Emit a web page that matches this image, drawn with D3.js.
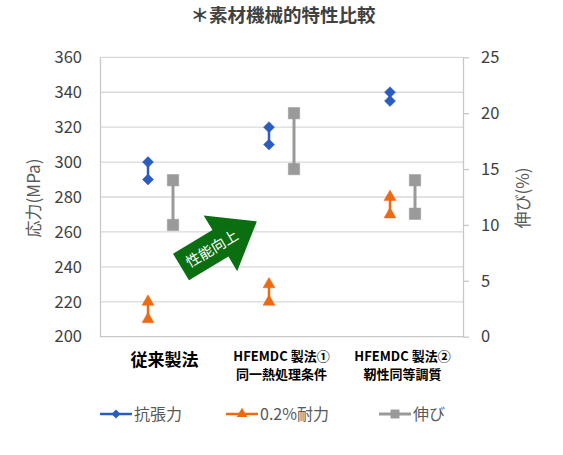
<!DOCTYPE html>
<html><head><meta charset="utf-8">
<script src="https://cdn.jsdelivr.net/npm/d3@7"></script>
<style>body{margin:0;background:#fff}svg{display:block}</style>
</head><body>
<svg id="c" width="563" height="455"></svg>
<script>
const title = "＊素材機械的特性比較";
const categories = ["従来製法", "HFEMDC 製法①|同一熱処理条件", "HFEMDC 製法②|靭性同等調質"];
const tensileHigh = [300, 320, 340];
const tensileLow  = [290, 310, 335];
const proofHigh   = [220, 230, 280];
const proofLow    = [210, 220, 270];
const elongHigh   = [14, 20, 14];
const elongLow    = [10, 15, 11];
const leftTicks  = [200, 220, 240, 260, 280, 300, 320, 340, 360];
const rightTicks = [0, 5, 10, 15, 20, 25];
const seriesNames = ["抗張力", "0.2%耐力", "伸び"];
const arrowLabel = "性能向上";

const svg = d3.select("#c");
const FONT = "'Noto Sans CJK JP', 'Noto Sans', sans-serif";
const L = 100, R = 463, T = 57.3, B = 336.7;
const x = d3.scaleBand().domain(d3.range(categories.length)).range([L, R]);
const sub = d3.scalePoint().domain(["stress", "elong"]).range([-12.5, 12.5]);
const yL = d3.scaleLinear().domain([200, 360]).range([B, T]);
const yR = d3.scaleLinear().domain([0, 25]).range([B, T]);
const blue = "#2b5cbf", orange = "#ee6a12", gray = "#9a9a9a";

// title
svg.append("text").attr("x", 283).attr("y", 22).attr("text-anchor", "middle")
  .attr("font-family", FONT).attr("font-weight", "bold").attr("font-size", 18.5)
  .attr("fill", "#404040").text(title);

// gridlines
svg.append("g").selectAll("line").data(leftTicks.slice(1)).join("line")
  .attr("x1", L).attr("x2", R).attr("y1", d => yL(d)).attr("y2", d => yL(d))
  .attr("stroke", "#d9d9d9").attr("stroke-width", 1.3);

// left axis
const gl = svg.append("g").attr("transform", `translate(${L},0)`)
  .call(d3.axisLeft(yL).tickValues(leftTicks).tickSize(0).tickPadding(18));
gl.select(".domain").attr("stroke", "#c8c8c8").attr("stroke-width", 1.3);
gl.selectAll("text").attr("font-family", FONT).attr("font-size", 16.5).attr("fill", "#404040");

// right axis
const gr = svg.append("g").attr("transform", `translate(${R},0)`)
  .call(d3.axisRight(yR).tickValues(rightTicks).tickSizeInner(6).tickSizeOuter(0).tickPadding(12));
gr.select(".domain").attr("stroke", "#c8c8c8").attr("stroke-width", 1.3);
gr.selectAll(".tick line").attr("stroke", "#c8c8c8").attr("stroke-width", 1.3);
gr.selectAll("text").attr("font-family", FONT).attr("font-size", 16.5).attr("fill", "#404040");

// bottom axis line
svg.append("line").attr("x1", L).attr("x2", R).attr("y1", B).attr("y2", B)
  .attr("stroke", "#c8c8c8").attr("stroke-width", 1.3);

// axis titles
svg.append("text").attr("transform", "translate(40,198) rotate(-90)").attr("text-anchor", "middle")
  .attr("font-family", FONT).attr("font-size", 17).attr("fill", "#595959").text("応力(MPa)");
svg.append("text").attr("transform", "translate(529,198) rotate(-90)").attr("text-anchor", "middle")
  .attr("font-family", FONT).attr("font-size", 17).attr("fill", "#595959").text("伸び(%)");

// category labels
const cx = i => x(i) + x.bandwidth() / 2;
categories.forEach((c, i) => {
  const lines = c.split("|");
  if (lines.length === 1) {
    svg.append("text").attr("text-anchor", "middle").attr("font-family", FONT)
      .attr("font-weight", "bold").attr("fill", "#000")
      .attr("x", cx(i) + 4).attr("y", 366).attr("font-size", 17).text(lines[0]);
  } else {
    lines.forEach((ln, k) => svg.append("text").attr("text-anchor", "middle").attr("font-family", FONT)
      .attr("font-weight", "bold").attr("fill", "#000")
      .attr("x", cx(i)).attr("y", 361 + k * 18).attr("font-size", 13).text(ln));
  }
});

const tri = d3.symbol().type(d3.symbolTriangle).size(62);
const sq = d3.symbol().type(d3.symbolSquare).size(130);
const dia = d3.symbol().type(d3.symbolSquare).size(60);

function drawPair(hi, lo, y, off, color, sym, lw, rot) {
  const g = svg.append("g");
  hi.forEach((h, i) => {
    const px = cx(i) + off;
    g.append("line").attr("x1", px).attr("x2", px).attr("y1", y(h)).attr("y2", y(lo[i]))
      .attr("stroke", color).attr("stroke-width", lw);
    [h, lo[i]].forEach(v => g.append("path").attr("d", sym)
      .attr("transform", `translate(${px},${y(v)}) rotate(${rot})`).attr("fill", color)
      .attr("stroke", color).attr("stroke-width", 0.5).attr("stroke-linejoin", "round"));
  });
}
drawPair(elongHigh, elongLow, yR, sub("elong"), gray, sq, 3, 0);
drawPair(tensileHigh, tensileLow, yL, sub("stress"), blue, dia, 2.5, 45);
drawPair(proofHigh, proofLow, yL, sub("stress"), orange, tri, 2.5, 0);

// arrow
const ag = svg.append("g").attr("transform", "translate(181,267) rotate(-31)");
ag.append("path").attr("d", "M0,-15.5 L46,-15.5 L46,-32.5 L88.5,0 L46,32.5 L46,15.5 L0,15.5 Z")
  .attr("fill", "#0b6e10");
ag.append("text").attr("x", 36).attr("y", 5.5).attr("text-anchor", "middle")
  .attr("font-family", FONT).attr("font-size", 14.5).attr("fill", "#fff").text(arrowLabel);

// legend
const legend = [
  {name: seriesNames[0], color: blue, sym: d3.symbol().type(d3.symbolSquare).size(40), rot: 45, lw: 2.5, x: 100},
  {name: seriesNames[1], color: orange, sym: d3.symbol().type(d3.symbolTriangle).size(50), rot: 0, lw: 2.5, x: 226},
  {name: seriesNames[2], color: gray, sym: d3.symbol().type(d3.symbolSquare).size(80), rot: 0, lw: 3, x: 379}
];
legend.forEach(d => {
  const g = svg.append("g").attr("transform", `translate(${d.x},414)`);
  g.append("line").attr("x1", 0).attr("x2", 32).attr("stroke", d.color).attr("stroke-width", d.lw);
  g.append("path").attr("d", d.sym).attr("transform", `translate(16,0) rotate(${d.rot})`).attr("fill", d.color);
  g.append("text").attr("x", 34).attr("y", 5.5).attr("font-family", FONT).attr("font-size", 16)
    .attr("fill", "#595959").text(d.name);
});
</script>
</body></html>
